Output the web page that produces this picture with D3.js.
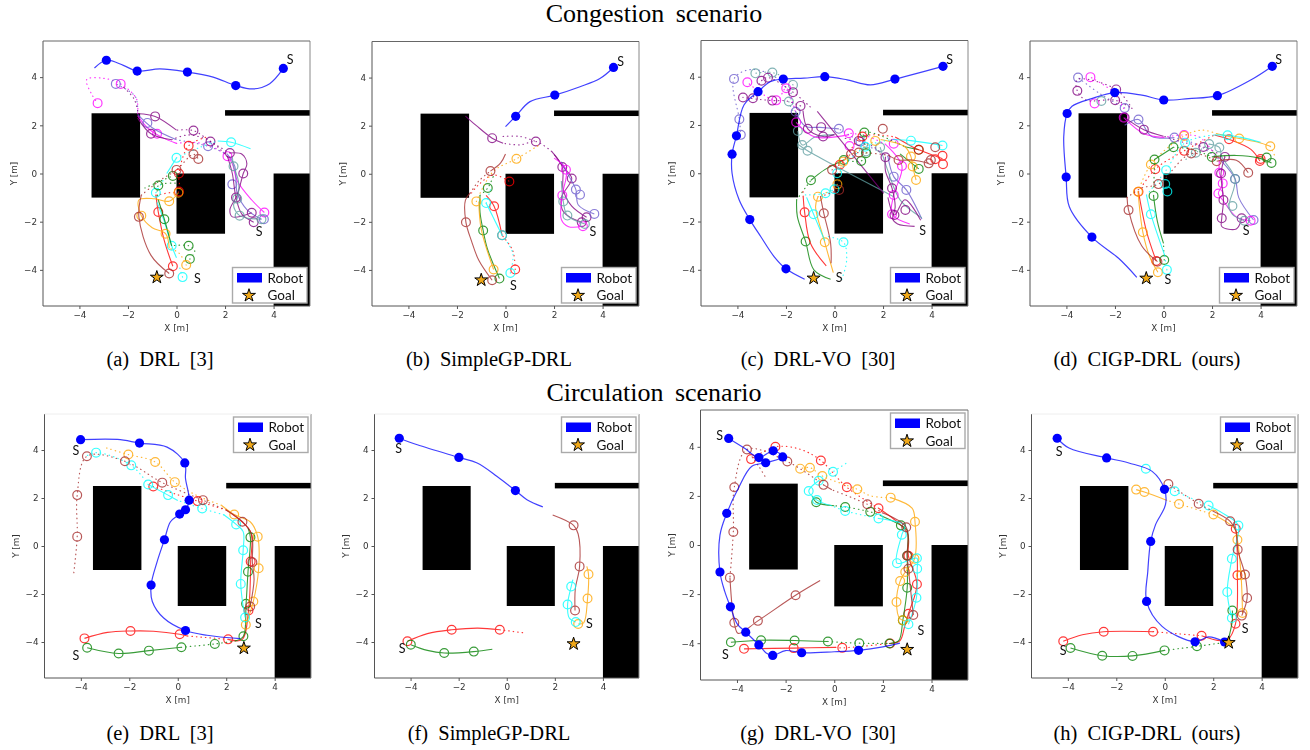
<!DOCTYPE html>
<html>
<head>
<meta charset="utf-8">
<script src="https://cdn.jsdelivr.net/npm/d3@7"></script>
<style>
  html, body { margin: 0; background: #fff; }
  svg { display: block; }
  .tick text, .axis-label { font-family: "DejaVu Sans", sans-serif; fill: #333; }
  .plot { filter: blur(0.35px); }
</style>
</head>
<body>
<main></main>
<script>
const w = 1310;
const h = 750;

const titles = ["Congestion scenario", "Circulation scenario"];
const captions = [
  "(a) DRL [3]", "(b) SimpleGP-DRL", "(c) DRL-VO [30]", "(d) CIGP-DRL (ours)",
  "(e) DRL [3]", "(f) SimpleGP-DRL", "(g) DRL-VO [30]", "(h) CIGP-DRL (ours)",
];
const ticks = [-4, -2, 0, 2, 4];
const legendItems = ["Robot", "Goal"];

// obstacles in metres: x0, x1, y0, y1
const walls = [
  [-3.5, -1.5, -1, 2.5],
  [0, 2, -2.5, 0],
  [4, 5.5, -5.5, 0],
  [2, 5.5, 2.4, 2.63],
];

const colors = {
  red: "#ff0000",
  green: "#008000",
  orange: "#ffa500",
  cyan: "#00ffff",
  brown: "#a52a2a",
  purple: "#800080",
  magenta: "#ff00ff",
  slate: "#6a5acd",
  cadet: "#5f9ea0",
};

// ---- (a) DRL, congestion
const aGoal = [-0.81, -4.31];
const aStarts = [[0.86, -4.35], [3.4, -2.4], [4.68, 4.74]];
const aRobotLine = [[4.4, 4.36], [3.84, 3.73], [3.15, 3.51], [2.44, 3.65], [1.51, 4.0], [0.45, 4.21], [-0.68, 4.34], [-1.62, 4.25], [-2.19, 4.49], [-2.89, 4.7], [-3.38, 4.38]];
const aRobotDots = [[4.4, 4.36], [2.44, 3.65], [0.45, 4.21], [-1.62, 4.25], [-2.89, 4.7]];
const aPeople = [
  { who: "magenta", rings: [[3.62, -1.62], [2.1, 0.72], [-0.8, 1.65], [-3.25, 2.92], [-2.3, 3.72]],
    solid: [[[3.62, -1.62], [3.1, -1.1], [2.5, -0.3], [2.3, 0.4], [2.1, 0.72]], [[0, 1.25], [-0.6, 1.5], [-1.2, 1.9], [-1.6, 2.4]]],
    dotted: [[[2.1, 0.72], [1.5, 1.1], [0.7, 1.3], [0, 1.25]], [[-1.6, 2.5], [-1.65, 3.1], [-2.3, 3.72], [-3, 3.95], [-3.7, 3.9], [-3.5, 3.3], [-3.25, 2.92]]] },
  { who: "slate", rings: [[3.6, -1.9], [2.3, -0.45], [1.3, 1.13], [-1.2, 2.1], [-2.5, 3.72]],
    solid: [[[3.5, -1.9], [2.9, -1.5], [2.5, -0.8], [2.4, 0.3], [2.1, 0.8]], [[0, 1.4], [-1, 1.9], [-1.6, 2.45]]],
    dotted: [[[2.1, 0.8], [1.3, 1.13], [0, 1.4]], [[-1.6, 2.6], [-1.7, 3.2], [-2.5, 3.72]]] },
  { who: "purple", rings: [[3.1, -1.63], [2.75, 0], [2.2, 0.85], [0.7, 1.78], [-0.88, 2.37]],
    solid: [[[3.1, -1.63], [2.3, -1.8], [2.2, -1.5], [2.5, -0.9], [2.75, 0], [2.9, 0.4], [2.7, 0.8], [2.2, 0.85]], [[0, 1.8], [-0.88, 2.37], [-1.57, 2.48]]],
    dotted: [[[2.2, 0.85], [1.4, 1.33], [0.7, 1.78], [0, 1.8]], [[-1.6, 2.6], [-1.75, 3.1], [-2.2, 3.6]]] },
  { who: "purple", rings: [[3.18, -2.02], [2.45, -1], [1.4, 1.33], [-1.05, 1.65]],
    solid: [[[3.18, -2.02], [2.7, -1.7], [2.45, -1], [2.3, 0], [2.1, 0.7]], [[-0.2, 1.4], [-1.05, 1.65], [-1.6, 2.3]]],
    dotted: [[[2.1, 0.7], [1.4, 1.33], [0.5, 1.6], [-0.2, 1.4]]] },
  { who: "cadet", rings: [[3.5, -1.9], [2.6, -1.75], [2.5, -1.05], [2.35, 0.3]],
    solid: [[[3.5, -1.9], [2.6, -1.75], [2.35, -1.3], [2.5, -1.05], [2.55, -0.3], [2.35, 0.3], [2.3, 0.7]]],
    dotted: [] },
  { who: "red", rings: [[-0.15, -3.85], [-0.75, -1.6], [0.1, -0.75], [0.1, 0], [0.5, 1.15]],
    solid: [[[-0.15, -3.85], [-0.5, -2.8], [-0.75, -1.6], [-0.85, -0.9]]],
    dotted: [[[-0.85, -0.9], [-0.3, -0.8], [0.1, -0.75], [0.1, 0], [0.5, 1.15], [1.2, 1.5]]] },
  { who: "cyan", rings: [[0.25, -4.3], [-0.2, -3], [-0.85, -0.8], [0, 0.65], [2.25, 1.3]],
    solid: [[[0, -3.5], [-0.2, -3], [-0.5, -2], [-0.8, -1.2]], [[-0.4, 0], [0, 0.65]], [[1.7, 1.35], [2.25, 1.3], [3.05, 1.03]]],
    dotted: [[[0.25, -4.3], [0.1, -3.8]], [[-0.85, -0.8], [-0.5, -0.2]], [[0, 0.65], [1, 1.1], [1.7, 1.35]]] },
  { who: "green", rings: [[0.5, -3], [0.55, -3.55], [-0.5, -1.9], [-0.75, -0.5], [-0.15, -0.1]],
    solid: [[[-0.2, -3], [-0.5, -1.9], [-0.75, -1.1]]],
    dotted: [[[0.55, -3.55], [0.75, -3.2], [0.5, -3], [-0.2, -3]], [[-0.75, -1.1], [-0.75, -0.5], [0, -0.4]], [[-1.3, -0.6], [-0.75, -0.35], [-0.15, -0.1]]] },
  { who: "orange", rings: [[0.4, -3.8], [-0.45, -2.5], [-1.45, -1.75], [-0.3, -1.15], [0.08, -0.8]],
    solid: [[[-0.3, -3.1], [-0.45, -2.5], [-1, -2.25], [-1.45, -1.75], [-1.55, -1.1], [-0.9, -1.05], [-0.3, -1.15], [0.08, -0.8]]],
    dotted: [[[0.4, -3.8], [0.1, -3.3], [-0.3, -3.1]]] },
  { who: "brown", rings: [[-0.3, -4.15], [-1.55, -1.8], [0, 0.15], [0.7, 0.8], [0.9, 0.6]],
    solid: [[[-0.3, -4.15], [-1.05, -3.4], [-1.55, -1.8], [-1.45, -0.9]]],
    dotted: [[[-1.45, -0.9], [-0.7, -0.3], [0, 0.15], [0.7, 0.8], [0.9, 0.6]]] },
];

// ---- (b) SimpleGP-DRL, congestion
const bGoal = [-1.0, -4.42];
const bStarts = [[0.33, -4.67], [3.6, -2.42], [4.74, 4.65]];
const bRobotLine = [[0, 1.96], [0.42, 2.39], [1.01, 3.0], [2.03, 3.27], [3.07, 3.62], [3.89, 3.96], [4.45, 4.42]];
const bRobotDots = [[4.45, 4.42], [2.03, 3.27], [0.42, 2.39]];
const bPeople = [
  { who: "purple", rings: [[3.34, -1.81], [2.34, 0.28], [1.25, 1.34], [-0.55, 1.48]],
    solid: [[[3.34, -1.81], [2.73, -1.35], [2.38, -0.68], [2.34, 0.28], [1.9, 0.93]], [[-0.1, 1.27], [-0.55, 1.48], [-1.2, 2.0], [-1.65, 2.4]]],
    dotted: [[[1.9, 0.93], [1.25, 1.34], [0.6, 1.2], [-0.1, 1.27]], [[-0.1, 1.55], [0.6, 1.55], [1.25, 1.34]]] },
  { who: "purple", rings: [[3.14, -2.02], [2.73, -0.2]],
    solid: [[[3.14, -2.02], [2.4, -1.6], [2.3, -1], [2.73, -0.2], [2.45, 0.2], [2.0, 0.8]]],
    dotted: [] },
  { who: "slate", rings: [[3.66, -1.67], [3.07, -0.87], [2.9, -0.66]],
    solid: [[[3.66, -1.67], [3.0, -1.3], [2.9, -0.66], [2.5, 0.1], [2.3, 0.5]]],
    dotted: [] },
  { who: "magenta", rings: [[3.19, -2.18], [2.34, -0.9], [2.49, 0.17]],
    solid: [[[3.19, -2.18], [2.6, -2.2], [2.3, -1.9], [2.34, -0.9], [2.5, 0.17], [2.0, 0.65]]],
    dotted: [] },
  { who: "cadet", rings: [[3.27, -2.09], [2.55, -1.74], [2.38, -1.15]],
    solid: [[[3.27, -2.09], [2.55, -1.74], [2.38, -1.15], [2.3, -0.3]]],
    dotted: [] },
  { who: "red", rings: [[0.4, -3.98], [-0.14, -2.56], [-0.47, -1.35], [0.16, -0.32]],
    solid: [[[-0.14, -2.56], [-0.47, -1.35], [-0.8, -0.9]]],
    dotted: [[[0.4, -3.98], [0.3, -3.2], [-0.14, -2.56]], [[-1.4, -0.8], [-1.1, -0.45], [-0.5, -0.05], [0.16, -0.32]]] },
  { who: "cyan", rings: [[0.2, -4.13], [-0.14, -2.56], [-0.8, -1.22]],
    solid: [[[-0.8, -1.22], [-0.14, -2.56]]],
    dotted: [[[-0.14, -2.56], [0.3, -3.3], [0.2, -4.13]], [[-0.8, -1.22], [-0.6, -0.6]]] },
  { who: "green", rings: [[-0.25, -4.36], [-0.92, -2.36], [-0.73, -0.59]],
    solid: [[[-0.25, -4.36], [-0.75, -3.1], [-0.92, -2.36], [-1.05, -1.6], [-1.05, -0.9]]],
    dotted: [[[-1.05, -0.9], [-0.73, -0.59], [-0.5, -0.1]]] },
  { who: "orange", rings: [[-0.49, -3.98], [-1.2, -1.15], [0.45, 0.62]],
    solid: [[[-0.49, -3.98], [-1, -2.3], [-1.1, -1.15]]],
    dotted: [[[-1.2, -1.15], [-0.5, 0.1], [0.45, 0.62], [1.4, 1.2]]] },
  { who: "brown", rings: [[-0.55, -4.43], [-1.63, -2.02], [-0.62, 0.11]],
    solid: [[[-0.55, -4.43], [-1.1, -3.6], [-1.4, -2.8], [-1.63, -2.02], [-1.65, -1.1], [-1.45, -0.8]], [[-0.62, 0.11], [-0.2, 0.45], [0, 0.82]]],
    dotted: [[[-1.45, -0.8], [-1.1, -0.3], [-0.62, 0.11]]] },
];

// ---- (c) DRL-VO, congestion
const cGoal = [-0.86, -4.35];
const cStarts = [[0.19, -4.31], [3.63, -2.38], [4.74, 4.72]];
const cRobotLine = [[4.47, 4.43], [3.67, 4.21], [2.49, 3.9], [1.48, 3.66], [0.52, 3.87], [-0.4, 4.0], [-1.26, 3.94], [-2.11, 3.9], [-2.63, 3.8], [-3.15, 3.38], [-3.73, 2.83], [-4.04, 1.55], [-4.22, 0.79], [-4.22, 0], [-3.93, -1.1], [-3.49, -1.92], [-3.04, -2.62], [-2.49, -3.45], [-2.0, -3.96], [-1.23, -4.39]];
const cRobotDots = [[4.47, 4.43], [2.49, 3.9], [-0.4, 4.0], [-2.11, 3.9], [-3.15, 3.38], [-4.04, 1.55], [-4.22, 0.79], [-3.49, -1.92], [-2.0, -3.96]];
const cPeople = [
  { who: "slate", rings: [[-4.14, 3.91], [-3.92, 2.24], [-3.86, 1.59], [-1.6, 2.55], [0.18, 1.84], [1.07, 1.31], [2.44, -0.14], [2.96, -0.69]],
    solid: [[[3.6, -1.9], [2.96, -0.69], [2.44, -0.14], [2.2, 0.7]], [[0.18, 1.84], [-0.6, 1.9], [-1.2, 1.95], [-1.6, 2.55]]],
    dotted: [[[2.2, 0.7], [1.07, 1.31], [0.18, 1.84]], [[-1.6, 2.55], [-2.2, 3.8], [-3.4, 4.3], [-4.14, 3.91], [-3.92, 2.24], [-3.86, 1.59]]] },
  { who: "cadet", rings: [[-3.26, 4.14], [-2.56, 4.17], [-1.71, 3.66], [-1.88, 2.97], [-1.51, 1.75], [-1.33, 1.17], [-1.11, 0.93], [1.3, 0.9], [1.88, 1.08]],
    solid: [[[3.6, -1.85], [2.7, -1.1], [2.2, 0.1], [1.88, 1.08]], [[2.44, -0.97], [-1.11, 0.93], [-1.51, 1.2]], [[-1.51, 1.75], [-1.33, 1.17], [-0.8, 1.5], [0, 1.6]]],
    dotted: [[[-1.51, 2.3], [-1.88, 2.97], [-1.71, 3.66], [-2.56, 4.17], [-3.26, 4.14]]] },
  { who: "magenta", rings: [[-3.59, 3.77], [-2.4, 3.02], [-1.99, 3.52], [-1.58, 2.11], [0.59, 1.66], [0.62, 1.13], [2.44, 1.22], [2.78, 0.3], [2.44, -0.9], [2.37, -1.7]],
    solid: [[[3.1, -2.1], [2.37, -1.7], [2.44, -0.9], [2.78, 0.3], [2.1, 1.2]], [[0.6, 1.6], [-0.8, 1.5], [-1.58, 2.11]]],
    dotted: [[[2.1, 1.2], [1.3, 1.55], [0.59, 1.66]], [[-1.58, 2.4], [-1.99, 3.52], [-2.4, 3.02], [-3.59, 3.77]]] },
  { who: "purple", rings: [[-3.77, 3.14], [-2.56, 3.01], [-1.4, 2.79], [-1.1, 1.84], [-0.47, 1.52], [1, 1.34], [2.1, 0.66], [2.37, -0.62], [2.92, -1.52]],
    solid: [[[3.3, -2.2], [2.6, -2.1], [2.4, -1.9], [2.5, -1.4], [2.37, -0.62], [2.1, 0.1], [2.1, 0.66]], [[0, 1.6], [-0.47, 1.52], [-1.1, 1.84], [-1.3, 2.6]]],
    dotted: [[[2.1, 0.66], [1.6, 1.1], [1, 1.34], [0.4, 1.45]], [[-1.4, 2.79], [-2.0, 3.0], [-2.56, 3.01], [-3.77, 3.14]]] },
  { who: "purple", rings: [[-3.36, 3.11], [-3.01, 3.83], [-2.74, 3.96], [-1.71, 3.36], [-0.55, 1.91], [2.47, -1.73]],
    solid: [[[-0.71, 2.56], [2.03, -0.83]], [[3.55, -1.95], [2.9, -1.1], [2.47, -1.73], [2.2, -1]]],
    dotted: [[[-1, 2.75], [-1.71, 3.36], [-2.74, 3.96], [-3.01, 3.83], [-3.36, 3.11]]] },
  { who: "green", rings: [[-1.19, -2.83], [-0.97, -0.29], [0.38, 0.55], [1.23, 1.69], [1.1, 0.51], [1.3, 0.83], [3.47, 0.18], [3.47, 0.97]],
    solid: [[[-0.16, -4.39], [-0.85, -4], [-1.19, -2.83], [-1.53, -1.8], [-1.56, -1.1]], [[-0.97, -0.29], [-0.4, 0.15], [0.38, 0.55]], [[2.9, 1.1], [3.47, 0.97]], [[2.7, 0.8], [3.47, 0.18]]],
    dotted: [[[-1.56, -1.1], [-1.2, -0.6], [-0.97, -0.29]], [[0.38, 0.55], [1.1, 0.51], [1.3, 0.83], [1.23, 1.69], [2.9, 1.1]]] },
  { who: "red", rings: [[-1.23, -1.62], [0.22, 0.35], [1.15, 1.52], [3.47, 0.97], [4.45, 0.72], [4.47, 0.37], [4.15, 0.58]],
    solid: [[[-0.34, -3.84], [-0.99, -2.9], [-1.23, -1.62], [-1.29, -0.97]], [[2.5, 1.5], [3.2, 1.1], [3.47, 0.97], [4.45, 0.6]]],
    dotted: [[[-1.29, -0.97], [-1.3, -0.6]], [[-0.2, 0.3], [0.22, 0.35], [1.15, 1.52], [2.5, 1.5]]] },
  { who: "orange", rings: [[-0.4, -2.86], [-0.68, -0.97], [0.12, -0.46], [0.36, 0.48], [1.68, 1.34], [3.15, 0.69], [3.22, 0.28], [3.36, -0.28]],
    solid: [[[-0.05, -4.12], [-0.4, -2.86], [-0.78, -1.38], [-0.68, -0.97]], [[1.9, 1.4], [2.9, 1.1], [3.15, 0.69], [3.22, 0.28], [3.36, -0.28]]],
    dotted: [[[-0.68, -0.97], [0.12, -0.46], [0.36, 0.48], [1.68, 1.34]]] },
  { who: "cyan", rings: [[0.37, -2.86], [-0.86, -1.7], [-0.37, -0.83], [0, -0.66], [0.11, 0], [1.27, 1.1], [3.15, 1.35], [4.45, 1.15]],
    solid: [[[-0.4, -2.8], [-0.86, -1.7], [-1.15, -1.0]], [[2.4, 1.4], [3.15, 1.35], [4.45, 1.15]]],
    dotted: [[[0.3, -4.4], [0.5, -3.6], [0.37, -2.86], [-0.4, -2.6]], [[-1.2, -0.9], [-0.37, -0.83], [0, -0.66]], [[0.11, 0], [1.27, 1.1], [2.4, 1.4]]] },
  { who: "brown", rings: [[-0.44, -1.66], [0.19, -0.69], [-0.1, 0.14], [0.68, 0.79], [1, 0.86], [1.99, 1.84], [2.64, 0.55], [3.88, 0.41], [3.97, 0.55], [4.15, 1.08]],
    solid: [[[-0.14, -3.73], [-0.16, -2.9], [-0.44, -1.66], [-0.58, -0.97]], [[2.2, 0.75], [2.64, 0.55], [3.2, 0.55], [3.88, 0.41]]],
    dotted: [[[-0.58, -0.97], [0.19, -0.69]], [[-0.1, 0.14], [0.68, 0.79], [1, 0.86], [2.2, 0.75]]] },
];

// ---- (d) CIGP-DRL, congestion
const dGoal = [-0.71, -4.35];
const dStarts = [[0.18, -4.39], [3.4, -2.38], [4.74, 4.74]];
const dRobotLine = [[4.48, 4.45], [3.63, 3.9], [2.22, 3.23], [1.03, 3.11], [0.01, 3.05], [-0.89, 3.25], [-2.01, 3.36], [-2.96, 3.11], [-3.77, 2.79], [-3.97, 2.49], [-4.11, 1.52], [-4.01, -0.15], [-3.88, -1.38], [-2.95, -2.64], [-1.85, -3.52], [-1.1, -4.31]];
const dRobotDots = [[4.48, 4.45], [2.22, 3.23], [0.01, 3.05], [-2.01, 3.36], [-3.97, 2.49], [-4.01, -0.15], [-2.95, -2.64]];
const dPeople = [
  { who: "slate", rings: [[-3.52, 3.98], [-1.6, 2.72], [-1.03, 2.24], [0.45, 1.49], [2.95, -0.23], [3.71, -1.93]],
    solid: [[[3.71, -1.93], [3.1, -1], [2.95, -0.23], [2.4, 0.5]], [[0.45, 1.49], [-0.5, 1.55], [-1.03, 2.24], [-1.6, 2]]],
    dotted: [[[2.4, 0.5], [1.4, 1.2], [0.45, 1.49]], [[-1.6, 2.72], [-2.6, 3.3], [-3.52, 3.98]]] },
  { who: "magenta", rings: [[-3.01, 4.0], [-2.84, 2.91], [-1.64, 2.32], [0.85, 1.6], [2.3, 0.03], [2.44, -0.41], [2.26, -0.83], [3.59, -1.96]],
    solid: [[[3.59, -1.96], [3, -1.8], [2.44, -1.1], [2.26, -0.83], [2.44, -0.41], [2.3, 0.03], [2.3, 0.5]], [[0, 1.5], [-0.8, 1.65], [-1.64, 2.32]]],
    dotted: [[[2.3, 0.5], [1.5, 1.5], [0.85, 1.6], [0, 1.5]], [[-1.64, 2.7], [-2.1, 3.4], [-3.01, 4.0]]] },
  { who: "purple", rings: [[-1.95, 3.49], [-3.55, 3.43], [-1.99, 3.04], [-1.6, 2.32], [-0.81, 1.82], [1.64, 1.1], [2.53, 0.69], [2.37, 0], [2.47, -1.1], [2.4, -1.86], [3.22, -1.86]],
    solid: [[[3.22, -1.86], [3.0, -2.3], [2.4, -2.2], [2.4, -1.86], [2.47, -1.1], [2.37, 0], [2.53, 0.69]], [[0, 1.55], [-0.81, 1.82], [-1.6, 2.32]]],
    dotted: [[[2.53, 0.69], [1.64, 1.1], [0.8, 1.3], [0, 1.55]], [[-1.3, 2.7], [-1.95, 3.49], [-3.55, 3.9], [-3.55, 3.43], [-3.2, 3.05], [-1.99, 3.04], [-1.3, 2.7]]] },
  { who: "cadet", rings: [[-2.56, 3.01], [1.33, 0.86], [1.88, 1.22], [2.3, 1.08], [2.95, -0.23], [2.84, -1.35], [3.33, -1.96]],
    solid: [[[3.33, -1.96], [2.84, -1.7], [2.7, -1.35], [2.95, -0.23], [2.4, 0.7], [2.3, 1.08], [1.88, 1.22]]],
    dotted: [[[1.88, 1.22], [1.33, 0.86], [0.8, 0.5]]] },
  { who: "red", rings: [[-0.3, -3.63], [-1.03, -0.76], [-0.34, 0.18], [0.85, 0.94], [2.7, 1.42], [3.97, 0.52], [4.0, 0.6]],
    solid: [[[-0.3, -3.63], [-0.7, -2.4], [-1.03, -0.76]], [[2.1, 1.6], [2.7, 1.42], [3.6, 1.0], [3.97, 0.52]]],
    dotted: [[[-1.03, -0.76], [-0.34, 0.18], [0.85, 0.94], [2.1, 1.6]]] },
  { who: "orange", rings: [[-0.23, -4.1], [-0.85, -2.44], [-1.05, -0.76], [-0.52, 0.37], [0.85, 1.56], [3.12, 1.45], [4.4, 1.13]],
    solid: [[[-0.23, -4.1], [-0.55, -3.5], [-0.85, -2.44], [-1.05, -0.76]], [[2.2, 1.65], [3.12, 1.45], [3.9, 1.3], [4.4, 1.13]]],
    dotted: [[[-1.05, -0.76], [-0.52, 0.37], [0.85, 1.56], [1.6, 1.8], [2.2, 1.65]], [[4.4, 1.13], [4.6, 0.7]]] },
  { who: "green", rings: [[0.03, -3.59], [-0.41, -0.93], [-0.37, 0.58], [0.41, 1.09], [1.99, 0.69], [4.25, 0.66], [4.45, 0.44]],
    solid: [[[0, -2.9], [-0.25, -2], [-0.41, -0.93]], [[-0.37, 0.58], [0.41, 1.09]], [[1.99, 0.69], [3, 0.75], [3.9, 0.65], [4.45, 0.44]]],
    dotted: [[[0.03, -3.59], [0, -2.9]], [[-0.41, -0.93], [-0.37, 0.58]], [[0.41, 1.09], [1.2, 1], [1.99, 0.69]]] },
  { who: "cyan", rings: [[0.14, -4.0], [-0.52, -1.69], [0.11, 0.14], [0.07, -0.44], [0.16, -0.75], [0.89, 1.28], [2.64, 1.59]],
    solid: [[[0.05, -3.4], [-0.52, -1.69], [-0.7, -0.9]], [[2.1, 1.6], [2.64, 1.59], [3.2, 1.5], [4.0, 1.3]]],
    dotted: [[[0.14, -4.0], [0.05, -3.4]], [[-0.7, -0.9], [0.11, 0.14], [0.89, 1.28], [2.1, 1.6]]] },
  { who: "brown", rings: [[-0.25, -3.66], [-1.44, -1.52], [-0.21, -0.44], [1.14, 0.83], [2.19, 0.51], [3.49, 0.03]],
    solid: [[[-0.25, -3.66], [-0.9, -3.0], [-1.44, -1.52], [-1.5, -1.0]], [[2.19, 0.51], [3, 0.55], [3.49, 0.03]]],
    dotted: [[[-1.5, -1.0], [-0.9, -0.6], [-0.21, -0.44], [1.14, 0.83], [2.19, 0.51]]] },
];

// ---- (e) DRL, circulation
const eGoal = [2.73, -4.26];
const eStarts = [[-4.2, 3.99], [3.33, -3.25], [-4.2, -4.55]];
const eRobotLine = [[-4.01, 4.43], [-2.49, 4.44], [-1.58, 4.29], [-0.44, 4.12], [0.29, 3.46], [0.32, 2.81], [0.47, 1.91], [0.32, 1.51], [0.08, 1.33], [-0.3, 1.01], [-0.55, 0.26], [-0.85, -0.65], [-1.1, -1.63], [-1.05, -2.31], [-0.58, -3], [0.32, -3.52], [1.21, -3.72], [2.58, -3.86]];
const eRobotDots = [[-4.01, 4.43], [-1.58, 4.29], [0.29, 3.46], [0.47, 1.91], [0.32, 1.51], [0.08, 1.33], [-0.55, 0.26], [-1.1, -1.63], [0.32, -3.52]];
const ePeople = [
  { who: "red", rings: [[-3.85, -3.85], [-1.95, -3.54], [0.08, -3.68], [2.08, -3.89], [2.92, -2.69], [3.01, -0.65], [0.82, 1.87], [-1.01, 2.48]],
    solid: [[[-3.85, -3.85], [-2.9, -3.6], [-1.95, -3.54], [-1, -3.55], [0.08, -3.68], [0.4, -3.75]], [[2.08, -3.89], [2.65, -3.9], [2.92, -2.69], [3.01, -0.65], [3, 0.6], [2, 1.5]]],
    dotted: [[[0.4, -3.75], [2.08, -3.89]], [[2, 1.5], [0.82, 1.87], [-0.2, 2.2], [-1.01, 2.48]]] },
  { who: "green", rings: [[-3.74, -4.24], [-2.44, -4.48], [-1.19, -4.36], [0.15, -4.22], [1.53, -4.08], [2.71, -3.76], [2.82, -2.41], [2.9, -1.07], [3, 0.36]],
    solid: [[[-3.74, -4.24], [-2.44, -4.48], [-1.19, -4.36], [0.15, -4.22]], [[2.4, -3.95], [2.71, -3.76], [2.82, -2.41], [2.9, -1.07], [3, 0.36], [2.9, 0.75]]],
    dotted: [[[0.15, -4.22], [1.53, -4.08], [2.4, -3.95]]] },
  { who: "orange", rings: [[2.81, -3.28], [3.12, -2.31], [3.34, -0.93], [3.3, 0.39], [2.33, 1.31], [-0.12, 2.66], [-0.93, 3.5], [-2.04, 3.81]],
    solid: [[[2.81, -3.28], [3.12, -2.31], [3.34, -0.93], [3.3, 0.39], [3, 1], [2.33, 1.31], [1.8, 1.7]]],
    dotted: [[[1.8, 1.7], [0.8, 2.1], [-0.12, 2.66], [-0.93, 3.5], [-2.04, 3.81], [-3, 4.1]]] },
  { who: "cyan", rings: [[2.78, -2.98], [2.6, -1.58], [2.7, -0.18], [2.41, 0.9], [1.01, 1.56], [-0.4, 2.12], [-1.22, 2.56], [-1.92, 3.36], [-3.37, 3.89]],
    solid: [[[2.78, -2.98], [2.6, -1.58], [2.7, -0.18], [2.7, 0.6], [2.41, 0.9], [1.9, 1.3]], [[0, 1.9], [-0.4, 2.12], [-1.22, 2.56]]],
    dotted: [[[1.9, 1.3], [1.01, 1.56], [0, 1.9]], [[-1.22, 2.56], [-1.92, 3.36], [-3.37, 3.89], [-3.85, 3.7]]] },
  { who: "brown", rings: [[2.99, -2.52], [3.08, -0.68], [2.67, 1.01], [1.04, 1.91], [-0.64, 2.64], [-2.18, 3.53], [-3.75, 3.74], [-4.15, 2.12], [-4.15, 0.39]],
    solid: [[[2.99, -2.52], [3.15, -1.4], [3.08, -0.68], [3.05, 0.5], [2.67, 1.01], [2.0, 1.5]]],
    dotted: [[[2.0, 1.5], [1.04, 1.91], [-0.64, 2.64], [-2.18, 3.53], [-3.75, 3.74], [-4.15, 2.12], [-4.15, 0.39], [-4.3, -1.2]]] },
];

// ---- (f) SimpleGP-DRL, circulation
const fGoal = [2.78, -4.08];
const fStarts = [[-4.5, 4.04], [3.44, -3.25], [-4.35, -4.28]];
const fRobotLine = [[-4.47, 4.49], [-3.72, 4.22], [-1.99, 3.69], [-1.23, 3.46], [-0.4, 2.9], [0.36, 2.31], [0.84, 1.93], [1.5, 1.63]];
const fRobotDots = [[-4.47, 4.49], [-1.99, 3.69], [0.36, 2.31]];
const fPeople = [
  { who: "brown", rings: [[2.78, 0.86], [3.03, -0.85], [2.84, -2.69]],
    solid: [[[1.91, 1.29], [2.78, 0.86], [2.97, 0.5], [3.03, -0.85], [2.85, -1.8], [2.84, -2.69]]], dotted: [] },
  { who: "orange", rings: [[2.97, -3.25], [3.36, -2.19], [3.4, -1.18]],
    solid: [[[2.97, -3.25], [3.2, -3.2], [3.36, -2.19], [3.4, -1.18], [3.33, -0.85]]], dotted: [] },
  { who: "cyan", rings: [[2.87, -3.17], [2.53, -2.44], [2.68, -1.69]],
    solid: [[[2.87, -3.17], [2.6, -3], [2.53, -2.44], [2.68, -1.69], [2.75, -1.4]]], dotted: [] },
  { who: "red", rings: [[-4.13, -3.97], [-2.29, -3.49], [-0.29, -3.49]],
    solid: [[[-4.13, -3.97], [-3.3, -3.65], [-2.29, -3.49], [-1.2, -3.42], [-0.29, -3.49]]],
    dotted: [[[-0.29, -3.49], [0.8, -3.63]]] },
  { who: "green", rings: [[-3.99, -4.11], [-2.6, -4.46], [-1.37, -4.4]],
    solid: [[[-3.99, -4.11], [-3.3, -4.35], [-2.6, -4.46], [-1.37, -4.4], [-0.6, -4.3]]], dotted: [] },
];

// ---- (g) DRL-VO, circulation
const gGoal = [3, -4.26];
const gStarts = [[3.56, -3.49], [-4.48, -4.45], [-4.71, 4.46]];
const gRobotLine = [[-4.34, 4.34], [-3.7, 3.95], [-3.1, 3.56], [-2.51, 3.84], [-2.12, 3.59], [-2.82, 3.35], [-3.4, 3.2], [-3.95, 2.3], [-4.42, 1.29], [-4.7, 0.4], [-4.7, -1.1], [-4.5, -1.9], [-4.27, -2.52], [-4.0, -3.2], [-3.64, -3.55], [-3.1, -4.07], [-2.8, -4.4], [-2.53, -4.5], [-2, -4.3], [-1.34, -4.39], [0, -4.35], [1, -4.29], [2.0, -4.15], [2.7, -4.0]];
const gRobotDots = [[-4.34, 4.34], [-3.1, 3.56], [-2.82, 3.35], [-2.51, 3.84], [-2.12, 3.59], [-4.42, 1.29], [-4.7, -1.1], [-4.27, -2.52], [-3.64, -3.55], [-3.1, -4.07], [-2.53, -4.5], [-1.34, -4.39], [1, -4.29]];
const gPeople = [
  { who: "red", rings: [[-3.71, -4.23], [-1.67, -4.2], [0.33, -4.19], [2.3, -4.01], [3.05, -2.8], [3.4, -1.6], [3.05, -0.44], [1.82, 1.5], [0.52, 2.35], [-0.55, 3.44], [-2.42, 4.0], [-3.42, 3.5]],
    solid: [[[-3.71, -4.23], [-1.67, -4.2], [0.05, -4.17]], [[2.3, -4.01], [2.7, -3.9], [2.9, -3.3], [3.05, -2.8], [3.4, -1.6], [3.05, -0.44], [3, 0.5], [1.82, 1.5]]],
    dotted: [[[0.05, -4.17], [0.33, -4.19], [2.3, -4.01]], [[1.82, 1.5], [0.52, 2.35], [-0.55, 3.44], [-1.4, 3.9], [-2.42, 4.0], [-3.42, 3.5]]] },
  { who: "green", rings: [[-4.25, -3.96], [-3.01, -3.88], [-1.63, -3.89], [-0.26, -3.93], [1.03, -4], [2.27, -4.01], [2.82, -3.07], [3, -1.74], [3, -0.44], [2.74, 0.8], [1.48, 1.35], [0.45, 1.55], [-0.74, 1.74]],
    solid: [[[-4.25, -3.96], [-3.01, -3.88], [-1.63, -3.89], [-0.26, -3.93]], [[2.27, -4.01], [2.65, -3.9], [2.82, -3.07], [3, -1.74], [3, -0.44], [3, 0.6], [2.74, 0.8], [1.9, 1.2]], [[0, 1.6], [-0.74, 1.74], [-0.9, 2]]],
    dotted: [[[-0.26, -3.93], [1.03, -4], [2.27, -4.01]], [[1.9, 1.2], [1.48, 1.35], [0.45, 1.55], [0, 1.6]]] },
  { who: "orange", rings: [[2.82, -3.07], [2.56, -2.32], [2.71, -1.47], [2.92, -1.1], [3.3, -0.56], [3.32, 0.95], [2.32, 1.93], [0.95, 2.27], [-0.49, 2.81], [-1, 3.15], [-1.4, 3.11]],
    solid: [[[3.1, -3.1], [2.7, -3], [2.56, -2.32], [2.71, -1.47], [2.92, -1.1], [3.3, -0.56], [3.32, 0.95], [3.2, 1.5], [2.32, 1.93]]],
    dotted: [[[2.32, 1.93], [1.5, 2.0], [0.95, 2.27], [-0.49, 2.81], [-1, 3.15], [-1.4, 3.11]]] },
  { who: "cyan", rings: [[3.05, -3.23], [3.38, -2.15], [3.41, -0.97], [3.4, -0.54], [2.58, -0.74], [2.78, 0.42], [1.82, 1.08], [0.45, 1.39], [-0.71, 1.83], [-1.05, 2.2], [-0.64, 2.62], [-0.05, 2.98]],
    solid: [[[3.05, -3.23], [3.38, -2.15], [3.41, -0.97], [3.4, -0.54], [2.58, -0.74], [2.78, 0.42], [2.9, 0.8], [1.82, 1.08]], [[-0.1, 1.6], [-0.71, 1.83], [-1.05, 2.2], [-0.64, 2.62]]],
    dotted: [[[1.82, 1.08], [0.45, 1.39], [-0.1, 1.6]], [[-0.64, 2.62], [-0.05, 2.98], [0.59, 3.4]]] },
  { who: "brown", rings: [[3.25, -2.85], [3.05, -0.97], [3, -0.44], [2.96, 0.72], [1.36, 1.66], [-0.44, 2.45], [-1.93, 3.4], [-3.59, 3.89], [-4.11, 2.35], [-4.15, 0.53], [-4.29, -1.33], [-4.11, -3.17], [-3.14, -3.09], [-1.59, -2.05]],
    solid: [[[3.25, -2.85], [3.05, -0.97], [3, -0.44], [2.96, 0.72], [2, 1.3]], [[-0.58, -1.45], [-1.59, -2.05], [-3.14, -3.09], [-3.95, -3.6], [-4.11, -3.17], [-4.29, -1.33]], [[-0.44, 2.45], [-0.1, 2.25]]],
    dotted: [[[2, 1.3], [1.36, 1.66], [-0.1, 2.25]], [[-0.44, 2.45], [-1.93, 3.4], [-3.59, 3.89], [-4.11, 2.35], [-4.15, 0.53], [-4.29, -1.33]], [[-3.59, 3.89], [-3.1, 3.2], [-2.85, 2.8]]] },
];

// ---- (h) CIGP-DRL, circulation
const hGoal = [2.64, -4.03];
const hStarts = [[-4.36, 3.94], [3.32, -3.44], [-4.19, -4.36]];
const hRobotLine = [[-4.44, 4.49], [-3.95, 4.08], [-2.4, 3.67], [-1.48, 3.46], [-0.52, 3.11], [-0.01, 2.36], [0.03, 1.72], [-0.38, 0.89], [-0.58, 0.19], [-0.7, -1.06], [-0.75, -2.31], [-0.11, -3.35], [1.25, -3.99], [1.81, -3.79], [2.47, -4]];
const hRobotDots = [[-4.44, 4.49], [-2.4, 3.67], [-0.01, 2.36], [-0.58, 0.19], [-0.75, -2.31], [1.25, -3.99], [2.47, -4]];
const hPeople = [
  { who: "red", rings: [[-4.19, -3.97], [-2.52, -3.57], [-0.48, -3.57], [1.52, -3.74], [2.92, -3.24], [3, -1.22], [2.93, 0.72]],
    solid: [[[-4.19, -3.97], [-3.4, -3.7], [-2.52, -3.57], [-0.48, -3.57]], [[1.52, -3.74], [2.3, -3.95], [2.6, -3.9], [2.92, -3.24], [3, -1.22], [2.93, 0.72], [2.85, 1.0]]],
    dotted: [[[-0.48, -3.57], [1.52, -3.74]]] },
  { who: "green", rings: [[-3.89, -4.25], [-2.58, -4.57], [-1.33, -4.58], [-0.01, -4.35], [1.33, -4.18], [2.79, -2.69]],
    solid: [[[-3.89, -4.25], [-2.58, -4.57], [-1.33, -4.58], [-0.01, -4.35]], [[2.6, -4], [2.79, -3.1], [2.79, -2.69]]],
    dotted: [[[-0.01, -4.35], [1.33, -4.18], [2.6, -4]]] },
  { who: "orange", rings: [[3.21, -2.79], [3.15, -1.22], [3, 0.26], [2.01, 1.31], [0.59, 1.75], [-0.84, 2.25], [-1.18, 2.35]],
    solid: [[[3.21, -2.79], [3.15, -1.22], [3, 0.26], [2.9, 0.7], [2.01, 1.31]], [[0.1, 1.9], [-0.84, 2.25], [-1.18, 2.35]]],
    dotted: [[[2.01, 1.31], [0.59, 1.75], [0.1, 1.9]]] },
  { who: "cyan", rings: [[2.77, -3], [2.58, -1.92], [2.77, -0.53], [3.04, 0.85], [1.81, 1.69], [0.41, 2.28], [-0.78, 3.22]],
    solid: [[[2.77, -3], [2.58, -1.92], [2.77, -0.53], [3.04, 0.85], [2.5, 1.3], [1.81, 1.69]]],
    dotted: [[[1.81, 1.69], [0.41, 2.28]]] },
  { who: "brown", rings: [[3.18, -2.9], [3.4, -2.17], [3.31, -1.19], [3.01, -0.15], [2.7, 1.03], [1.4, 1.76], [0.15, 2.58]],
    solid: [[[3.18, -2.9], [3.4, -2.17], [3.31, -1.19], [3.01, -0.15], [2.95, 0.6], [2.7, 1.03], [2.0, 1.45]]],
    dotted: [[[2.0, 1.45], [1.4, 1.76], [0.15, 2.58]]] },
];

// left, right, top, bottom of each axes box in page pixels
const frames = [
  [43, 310, 41, 306], [372, 639, 41.5, 306], [701, 968, 40.5, 306], [1030, 1297, 41, 306],
  [44.5, 311, 414, 678], [374.5, 639, 414, 678], [700.5, 968, 410, 680], [1031.5, 1298, 414, 678],
];

const panels = [
  { goal: aGoal, starts: aStarts, line: aRobotLine, dots: aRobotDots, people: aPeople },
  { goal: bGoal, starts: bStarts, line: bRobotLine, dots: bRobotDots, people: bPeople },
  { goal: cGoal, starts: cStarts, line: cRobotLine, dots: cRobotDots, people: cPeople },
  { goal: dGoal, starts: dStarts, line: dRobotLine, dots: dRobotDots, people: dPeople },
  { goal: eGoal, starts: eStarts, line: eRobotLine, dots: eRobotDots, people: ePeople },
  { goal: fGoal, starts: fStarts, line: fRobotLine, dots: fRobotDots, people: fPeople },
  { goal: gGoal, starts: gStarts, line: gRobotLine, dots: gRobotDots, people: gPeople },
  { goal: hGoal, starts: hStarts, line: hRobotLine, dots: hRobotDots, people: hPeople },
];

const svg = d3
  .select("main")
  .append("svg")
  .attr("width", w)
  .attr("height", h)
  .attr("viewBox", `0 0 ${w} ${h}`);

const star = d3.symbol().type(d3.symbolStar);
const serif = '"Liberation Serif", "Times New Roman", serif';
const handFont = 'Lato, "Liberation Sans", sans-serif';

svg
  .selectAll(".title")
  .data(titles)
  .join("text")
  .attr("class", "title")
  .attr("x", 654)
  .attr("y", (d, i) => (i === 0 ? 22 : 401))
  .attr("text-anchor", "middle")
  .style("font-family", serif)
  .style("font-size", "26px")
  .style("word-spacing", "5px")
  .text((d) => d);

svg
  .selectAll(".caption")
  .data(captions)
  .join("text")
  .attr("class", "caption")
  .attr("x", (d, i) => 160 + (i % 4) * 329)
  .attr("y", (d, i) => (i < 4 ? 365.5 : 739.5))
  .attr("text-anchor", "middle")
  .style("font-family", serif)
  .style("font-size", "20.5px")
  .style("word-spacing", "5px")
  .text((d) => d);

panels.forEach((panel, i) => drawPanel(panel, frames[i], i < 4, i === 4 || i === 5 || i === 7));

function drawPanel(panel, frame, legendBelow, fadedTop) {
  const [x0, x1, y0, y1] = frame;
  const x = d3.scaleLinear().domain([-5.5, 5.5]).range([x0, x1]);
  const y = d3.scaleLinear().domain([-5.5, 5.5]).range([y1, y0]);
  const path = d3.line().x((d) => x(d[0])).y((d) => y(d[1])).curve(d3.curveCatmullRom.alpha(0.5));

  const g = svg.append("g").attr("class", "plot");

  g.selectAll(".wall")
    .data(walls)
    .join("rect")
    .attr("x", (d) => x(d[0]))
    .attr("y", (d) => y(d[3]))
    .attr("width", (d) => x(d[1]) - x(d[0]))
    .attr("height", (d) => y(d[2]) - y(d[3]))
    .attr("fill", "#000");

  panel.people.forEach((person) => {
    const color = colors[person.who];
    const trail = g.append("g").attr("opacity", 0.78);

    trail
      .selectAll(".solid")
      .data(person.solid)
      .join("path")
      .attr("d", path)
      .attr("fill", "none")
      .attr("stroke", color)
      .attr("stroke-width", 1.1);

    trail
      .selectAll(".dotted")
      .data(person.dotted)
      .join("path")
      .attr("d", path)
      .attr("fill", "none")
      .attr("stroke", color)
      .attr("stroke-width", 1.2)
      .attr("stroke-linecap", "round")
      .attr("stroke-dasharray", "0.5 4");

    trail
      .selectAll("circle")
      .data(person.rings)
      .join("circle")
      .attr("cx", (d) => x(d[0]))
      .attr("cy", (d) => y(d[1]))
      .attr("r", 4.4)
      .attr("fill", "none")
      .attr("stroke", color)
      .attr("stroke-width", 1.2);
  });

  g.append("path")
    .datum(panel.line)
    .attr("d", path)
    .attr("fill", "none")
    .attr("stroke", "#0000ff")
    .attr("stroke-opacity", 0.75)
    .attr("stroke-width", 1.2);

  g.selectAll(".robot")
    .data(panel.dots)
    .join("circle")
    .attr("class", "robot")
    .attr("cx", (d) => x(d[0]))
    .attr("cy", (d) => y(d[1]))
    .attr("r", 4.6)
    .attr("fill", "#0000ff");

  g.append("path")
    .attr("d", star.size(52)())
    .attr("transform", `translate(${x(panel.goal[0])}, ${y(panel.goal[1])})`)
    .attr("fill", "#f0a818")
    .attr("stroke", "#000")
    .attr("stroke-width", 1);

  g.selectAll(".start")
    .data(panel.starts)
    .join("text")
    .attr("class", "start")
    .attr("x", (d) => x(d[0]))
    .attr("y", (d) => y(d[1]))
    .attr("dy", "0.35em")
    .attr("text-anchor", "middle")
    .style("font-family", handFont)
    .style("font-size", "12.5px")
    .attr("fill", "#111")
    .text("S");

  // spines; the top edge is nearly gone in three of the lower panels
  const spines = [
    [x0, y1, x1, y1, "#555"],
    [x0, y0, x0, y1, "#555"],
    [x1, y0, x1, y1, "#888"],
    [x0, y0, x1, y0, fadedTop ? "#eee" : "#666"],
  ];
  g.selectAll(".spine")
    .data(spines)
    .join("line")
    .attr("class", "spine")
    .attr("x1", (d) => d[0])
    .attr("y1", (d) => d[1])
    .attr("x2", (d) => d[2])
    .attr("y2", (d) => d[3])
    .attr("stroke", (d) => d[4])
    .attr("stroke-width", 1);

  g.append("g")
    .attr("transform", `translate(0, ${y1})`)
    .call(d3.axisBottom(x).tickValues(ticks).tickSize(3).tickPadding(3).tickFormat((d) => (d < 0 ? `\u2212${-d}` : d)))
    .call((a) => a.select(".domain").remove())
    .call((a) => a.selectAll("line").attr("stroke", "#555"))
    .call((a) => a.selectAll("text").style("font-size", "8.8px"));

  g.append("g")
    .attr("transform", `translate(${x0}, 0)`)
    .call(d3.axisLeft(y).tickValues(ticks).tickSize(3).tickPadding(3).tickFormat((d) => (d < 0 ? `\u2212${-d}` : d)))
    .call((a) => a.select(".domain").remove())
    .call((a) => a.selectAll("line").attr("stroke", "#555"))
    .call((a) => a.selectAll("text").style("font-size", "8.8px"));

  g.append("text")
    .attr("class", "axis-label")
    .attr("x", (x0 + x1) / 2)
    .attr("y", y1 + 25)
    .attr("text-anchor", "middle")
    .style("font-size", "8.8px")
    .text("X [m]");

  g.append("text")
    .attr("class", "axis-label")
    .attr("transform", `translate(${x0 - 26}, ${(y0 + y1) / 2}) rotate(-90)`)
    .attr("text-anchor", "middle")
    .style("font-size", "8.8px")
    .text("Y [m]");

  // legend, lower right for congestion and upper right for circulation
  const boxW = 74.5;
  const boxH = 35.5;
  const lx = x1 - 3 - boxW;
  const ly = legendBelow ? y1 - 3 - boxH : y0 + 3;
  const legend = g.append("g").attr("transform", `translate(${lx}, ${ly})`);

  legend
    .append("rect")
    .attr("width", boxW)
    .attr("height", boxH)
    .attr("fill", "#fff")
    .attr("stroke", "#aaa")
    .attr("stroke-width", 1.4);

  legend
    .append("rect")
    .attr("x", 4.5)
    .attr("y", 5.5)
    .attr("width", 25)
    .attr("height", 9.5)
    .attr("fill", "#0000ff");

  legend
    .append("path")
    .attr("d", star.size(52)())
    .attr("transform", "translate(16.5, 28)")
    .attr("fill", "#f0a818")
    .attr("stroke", "#000")
    .attr("stroke-width", 1);

  legend
    .selectAll("text")
    .data(legendItems)
    .join("text")
    .attr("x", 35)
    .attr("y", (d, i) => 10.5 + i * 17.5)
    .attr("dy", "0.35em")
    .style("font-family", handFont)
    .style("font-size", "13.5px")
    .attr("fill", "#111")
    .text((d) => d);
}
</script>
</body>
</html>
